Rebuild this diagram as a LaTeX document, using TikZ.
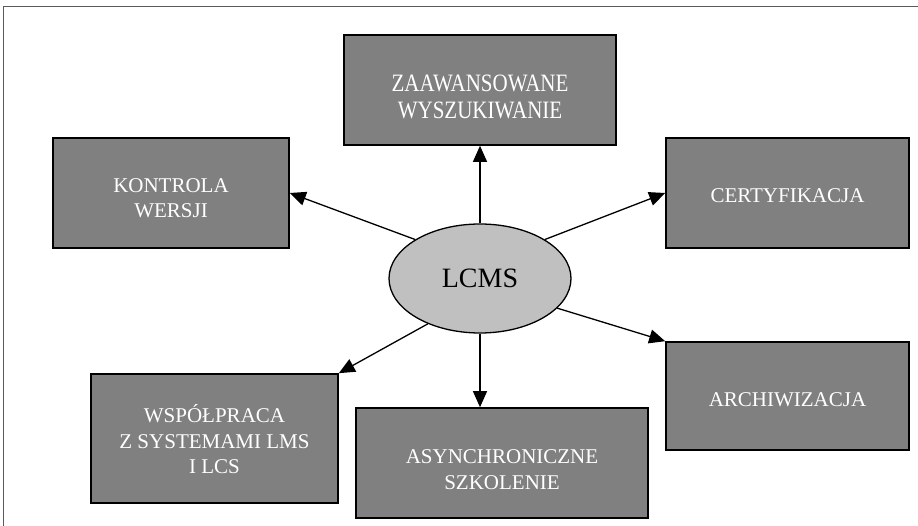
\documentclass[tikz,border=0pt]{standalone}
\usepackage{fontspec}
\setmainfont{Liberation Serif}
\newfontfamily\tallserif{Liberation Serif}[FakeStretch=0.84]
\usepackage{tikz}
\usetikzlibrary{arrows.meta}
\usetikzlibrary{shapes}
\definecolor{boxGray}{HTML}{808080}
\definecolor{coreGray}{HTML}{C0C0C0}
\definecolor{frameGray}{HTML}{5A5A5A}

\begin{document}
\begin{tikzpicture}[x=1pt,y=-1pt]
\tikzset{FeatureBox/.style={
  draw=black,
  line width=1.6pt,
  fill=boxGray,
  rectangle,
  inner sep=0pt,
}}
\tikzset{FeatureText/.style={
  align=center,
  inner sep=0pt,
  text=white,
  font=\fontsize{21}{25.5}\selectfont,
}}
\tikzset{CoreEllipse/.style={
  draw=black,
  line width=1.3pt,
  fill=coreGray,
  ellipse,
  inner sep=0pt,
  minimum width=182pt,
  minimum height=109pt,
  font=\fontsize{28}{32}\selectfont,
}}
\tikzset{FeatureArrow/.style={
  line width=1.3pt,
  -{Triangle[length=16pt,width=14pt]},
}}

\useasboundingbox (0,0) rectangle (918,526);
% page frame (only top and left edge are visible)
\draw[frameGray, line width=1.2pt] (3.5,526) -- (3.5,6.5) -- (918,6.5);

\node[CoreEllipse] (lcms) at (480,278.5) {LCMS};

% boxes
\node[FeatureBox, minimum width=272pt, minimum height=110pt] (wyszuk) at (480,90) {};
\node[FeatureBox, minimum width=236pt, minimum height=110pt] (wersje) at (171,193) {};
\node[FeatureBox, minimum width=243pt, minimum height=110pt] (certyf) at (787.5,193) {};
\node[FeatureBox, minimum width=243pt, minimum height=108pt] (archiw) at (787.5,396) {};
\node[FeatureBox, minimum width=247pt, minimum height=129pt] (wspolpr) at (214.5,438.5) {};
\node[FeatureBox, minimum width=292pt, minimum height=110pt] (szkol) at (502,463) {};

% box texts (set a little below the middle, as in the original)
\node[FeatureText, font=\tallserif\fontsize{25}{27}\selectfont] (wyszuk-t)
  at ([yshift=-6.5pt]wyszuk.center) {ZAAWANSOWANE\\WYSZUKIWANIE};
\node[FeatureText] (wersje-t) at ([yshift=-5pt]wersje.center) {KONTROLA\\WERSJI};
\node[FeatureText] (certyf-t) at ([yshift=-3pt]certyf.center) {CERTYFIKACJA};
\node[FeatureText] (archiw-t) at ([yshift=-4pt]archiw.center) {ARCHIWIZACJA};
\node[FeatureText] (wspolpr-t) at ([yshift=-1pt]wspolpr.center)
  {WSPÓŁPRACA\\Z SYSTEMAMI LMS\\I LCS};
\node[FeatureText] (szkol-t) at ([yshift=-6.5pt]szkol.center) {ASYNCHRONICZNE\\SZKOLENIE};

\draw[FeatureArrow] (lcms.north) -- (lcms.north |- wyszuk.south);
\draw[FeatureArrow] (lcms.149) -- (wersje.east);
\draw[FeatureArrow] (lcms.31) -- (certyf.west);
\draw[FeatureArrow] (lcms.339) -- (archiw.north west);
\draw[FeatureArrow] (lcms.south) -- (lcms.south |- szkol.north);
\draw[FeatureArrow] (lcms.221) -- (wspolpr.north east);
\end{tikzpicture}
\end{document}
